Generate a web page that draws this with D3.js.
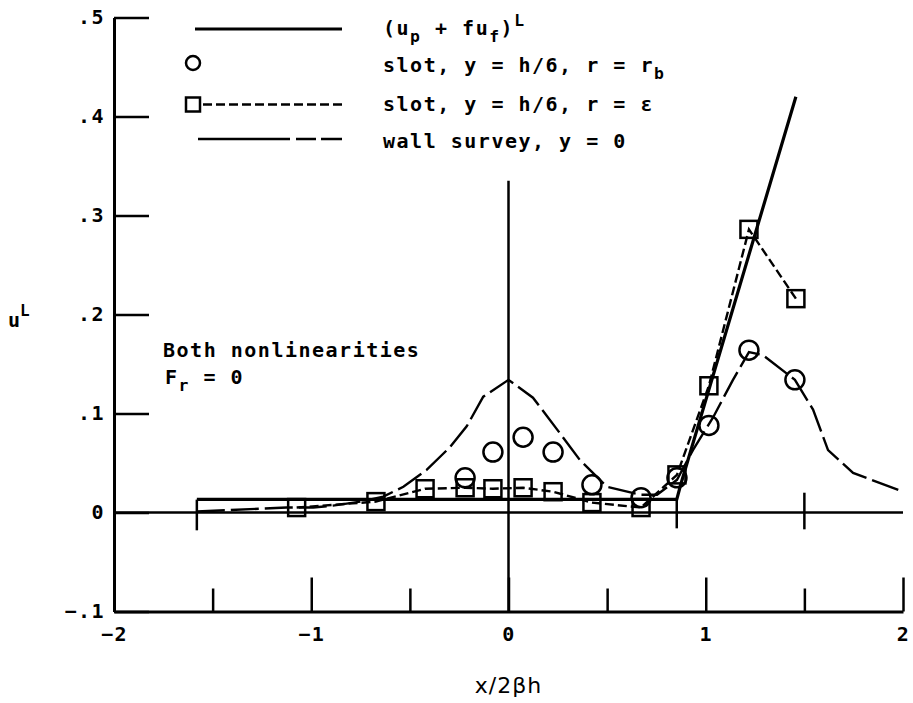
<!DOCTYPE html>
<html>
<head>
<meta charset="utf-8">
<script src="https://d3js.org/d3.v7.min.js"></script>
<style>
  html, body { margin: 0; padding: 0; background: #fff; }
  svg { display: block; }
  .mono { font-family: "DejaVu Sans Mono", monospace; font-weight: bold; fill: #000; }
</style>
</head>
<body>
<svg id="chart" width="913" height="703"></svg>
<script>
// ---------- data ----------
const xTicksMajor = [-2, -1, 0, 1, 2];
const xTicksMinor = [-1.5, -0.5, 0.5, 1.5];
const yTicks = [-0.1, 0, 0.1, 0.2, 0.3, 0.4, 0.5];
const yTickLabels = ["\u2212.1", "0", ".1", ".2", ".3", ".4", ".5"];
const xTickLabels = ["\u22122", "\u22121", "0", "1", "2"];

// (u_p + f u_f)^L  (solid)
const theoryX = [-1.58, 0.853, 0.875, 1.457];
const theoryU = [0.0133, 0.0133, 0.0295, 0.42];

// wall survey, y = 0  (long dashes)
const wallX = [-1.58, -1.125, -0.99, -0.89, -0.75, -0.635, -0.533, -0.415, -0.297, -0.212, -0.128, 0,
               0.124, 0.261, 0.362, 0.499, 0.667, 0.753, 0.854, 0.935, 1.037, 1.138, 1.219, 1.29,
               1.452, 1.544, 1.62, 1.747, 2.0];
const wallU = [0.001, 0.005, 0.005, 0.007, 0.011, 0.016, 0.026, 0.043, 0.066, 0.087, 0.117, 0.134,
               0.116, 0.080, 0.053, 0.026, 0.018, 0.018, 0.033, 0.063, 0.096, 0.134, 0.162, 0.159,
               0.134, 0.104, 0.063, 0.040, 0.021];

// slot, y = h/6, r = r_b  (circles)
const circX = [-0.22, -0.079, 0.074, 0.226, 0.423, 0.672, 0.854, 1.016, 1.219, 1.452];
const circU = [0.035, 0.061, 0.076, 0.061, 0.028, 0.015, 0.035, 0.088, 0.164, 0.134];

// slot, y = h/6, r = epsilon  (squares, dashed)
const sqX = [-1.074, -0.672, -0.423, -0.22, -0.079, 0.074, 0.226, 0.423, 0.672, 0.854, 1.016, 1.219, 1.457];
const sqU = [0.005, 0.011, 0.024, 0.025, 0.024, 0.025, 0.021, 0.010, 0.005, 0.038, 0.128, 0.286, 0.216];

// reference marks on the zero line
const markX = [-1.58, 0.853, 1.5];
const markTop = [0.013, 0.013, 0.02];
const markBot = [-0.018, -0.016, -0.017];

const legendLabels = ["(u_p + fu_f)^L", "slot, y = h/6, r = r_b", "slot, y = h/6, r = \u03b5", "wall survey, y = 0"];

// ---------- layout ----------
const svg = d3.select("#chart");
const x = d3.scaleLinear().domain([-2, 2]).range([114, 903]);
const y = d3.scaleLinear().domain([-0.1, 0.5]).range([611.5, 17.5]);
const FS = 20, LS = 1.5;

// axes
const gy = svg.append("g").attr("transform", `translate(${x(-2)},0)`)
  .call(d3.axisLeft(y).tickValues(yTicks).tickSizeInner(-35).tickSizeOuter(0).tickPadding(9)
    .tickFormat((d, i) => yTickLabels[i]));
const gx = svg.append("g").attr("transform", `translate(0,${y(-0.1)})`)
  .call(d3.axisBottom(x).tickValues(xTicksMajor).tickSizeInner(-34).tickSizeOuter(0).tickPadding(15)
    .tickFormat((d, i) => xTickLabels[i]));
const gx2 = svg.append("g").attr("transform", `translate(0,${y(-0.1)})`)
  .call(d3.axisBottom(x).tickValues(xTicksMinor).tickSizeInner(-23).tickSizeOuter(0).tickFormat(""));
gx2.select(".domain").remove();
[gy, gx, gx2].forEach(g => {
  g.attr("font-size", 20).attr("font-family", "'DejaVu Sans Mono', monospace");
  g.selectAll("path.domain").attr("stroke", "#000").attr("stroke-width", 3);
  g.selectAll(".tick line").attr("stroke", "#000").attr("stroke-width", 2.5);
  g.selectAll(".tick text").attr("fill", "#000")
    .style("font-size", "20px").style("letter-spacing", "1.5px")
    .style("font-family", "'DejaVu Sans Mono', monospace").style("font-weight", "bold");
});

// zero line and x=0 line
svg.append("line").attr("x1", x(-2)).attr("x2", x(2)).attr("y1", y(0)).attr("y2", y(0))
  .attr("stroke", "#000").attr("stroke-width", 2.5);
svg.append("line").attr("x1", x(0)).attr("x2", x(0)).attr("y1", y(0.335)).attr("y2", y(-0.1))
  .attr("stroke", "#000").attr("stroke-width", 2.5);
markX.forEach((m, i) => {
  svg.append("line").attr("x1", x(m)).attr("x2", x(m)).attr("y1", y(markTop[i])).attr("y2", y(markBot[i]))
    .attr("stroke", "#000").attr("stroke-width", 2.5);
});

// lines
const line = d3.line().x(d => x(d[0])).y(d => y(d[1]));
svg.append("path").attr("d", line(wallX.map((v, i) => [v, wallU[i]])))
  .attr("fill", "none").attr("stroke", "#000").attr("stroke-width", 2.4).attr("stroke-dasharray", "28,6");
svg.append("path").attr("d", line(sqX.map((v, i) => [v, sqU[i]])))
  .attr("fill", "none").attr("stroke", "#000").attr("stroke-width", 2.4).attr("stroke-dasharray", "9,4");
svg.append("path").attr("d", line(theoryX.map((v, i) => [v, theoryU[i]])))
  .attr("fill", "none").attr("stroke", "#000").attr("stroke-width", 3.2);

// markers
svg.append("g").selectAll("circle").data(circX.map((v, i) => [v, circU[i]])).join("circle")
  .attr("cx", d => x(d[0])).attr("cy", d => y(d[1])).attr("r", 9.5)
  .attr("fill", "none").attr("stroke", "#000").attr("stroke-width", 2.5);
const S = 17;
svg.append("g").selectAll("rect").data(sqX.map((v, i) => [v, sqU[i]])).join("rect")
  .attr("x", d => x(d[0]) - S / 2).attr("y", d => y(d[1]) - S / 2).attr("width", S).attr("height", S)
  .attr("fill", "none").attr("stroke", "#000").attr("stroke-width", 2.5);

// ---------- text helper: monospace with sub/superscripts ----------
function richText(xp, yp, str, fs) {
  const t = svg.append("text").attr("class", "mono").attr("x", xp).attr("y", yp)
    .attr("font-size", fs).attr("letter-spacing", LS).attr("xml:space", "preserve");
  let shift = 0;
  for (let i = 0; i < str.length; i++) {
    let ch = str[i], mode = 0;
    if ((ch === "_" || ch === "^") && i + 1 < str.length) { mode = ch === "_" ? 1 : 2; ch = str[++i]; }
    const target = mode === 1 ? 7 : mode === 2 ? -9 : 0;
    const ts = t.append("tspan").attr("dy", target - shift).text(ch);
    if (mode) ts.attr("font-size", fs * 0.82);
    shift = target;
  }
  return t;
}

// legend
const legRowY = [35, 72, 111, 148];
legendLabels.forEach((s, i) => richText(383, legRowY[i], s, FS));
svg.append("line").attr("x1", 195).attr("x2", 342).attr("y1", 29).attr("y2", 29)
  .attr("stroke", "#000").attr("stroke-width", 3.2);
svg.append("circle").attr("cx", 193).attr("cy", 63).attr("r", 7)
  .attr("fill", "none").attr("stroke", "#000").attr("stroke-width", 2.5);
svg.append("rect").attr("x", 186).attr("y", 97.5).attr("width", 14).attr("height", 14)
  .attr("fill", "none").attr("stroke", "#000").attr("stroke-width", 2.5);
svg.append("line").attr("x1", 203).attr("x2", 342).attr("y1", 104.5).attr("y2", 104.5)
  .attr("stroke", "#000").attr("stroke-width", 2.4).attr("stroke-dasharray", "9,4");
svg.append("line").attr("x1", 198).attr("x2", 342).attr("y1", 139).attr("y2", 139)
  .attr("stroke", "#000").attr("stroke-width", 2.4).attr("stroke-dasharray", "92,6,20,5,21");

// annotation
richText(163, 357, "Both nonlinearities", FS);
richText(165, 384, "F_r = 0", FS);

// axis titles
const ut = svg.append("text").attr("class", "mono").attr("x", 8).attr("y", 327)
  .attr("font-size", FS).attr("letter-spacing", 0);
ut.append("tspan").text("u");
ut.append("tspan").attr("dy", -11).attr("font-size", 16).text("L");
svg.append("text").attr("x", x(0)).attr("y", 693).attr("text-anchor", "middle")
  .attr("font-family", "DejaVu Sans, sans-serif").attr("font-size", 22).attr("letter-spacing", 1)
  .attr("fill", "#000").text("x/2\u03b2h");
</script>
</body>
</html>
